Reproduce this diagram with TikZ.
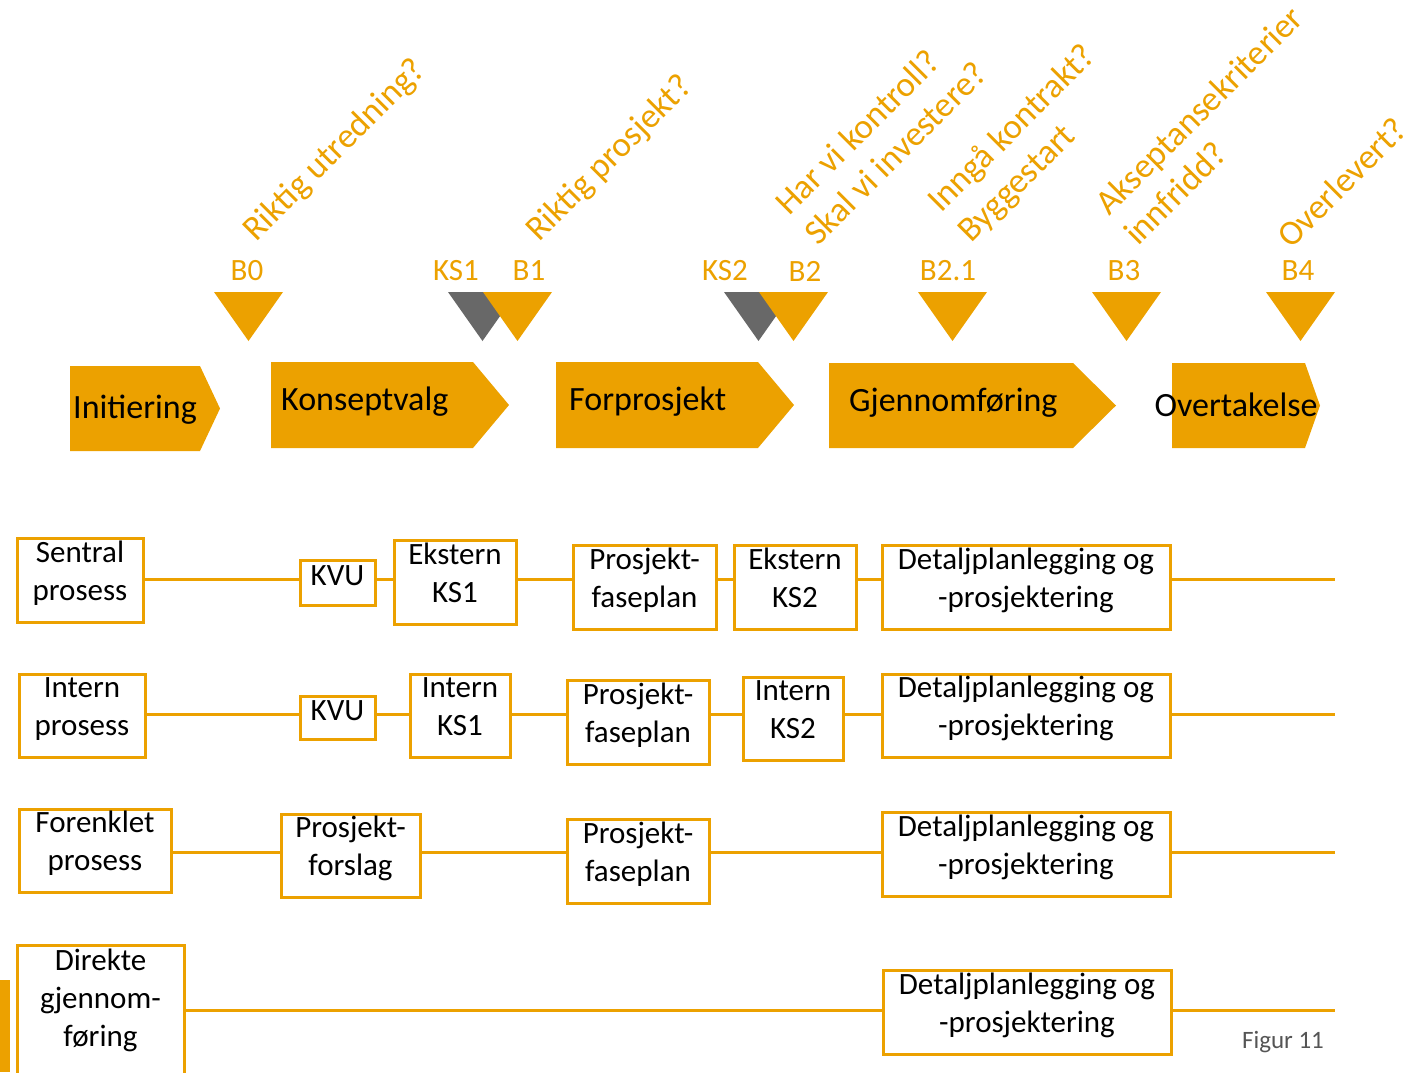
\documentclass[tikz,border=0pt]{standalone}
\usepackage{fontspec}
\setmainfont{Carlito}
\definecolor{org}{RGB}{236,161,0}
\definecolor{ksgray}{RGB}{104,104,104}
\definecolor{figgray}{RGB}{85,85,85}
\tikzset{
 box/.style={draw=org, line width=3pt, fill=white, align=center, inner sep=0pt, font=\fontsize{31}{38}\selectfont, text height=50pt, text depth=10pt},
 boxone/.style={box, text height=20pt, text depth=15pt},
 conn/.style={draw=org, line width=3pt},
 phase/.style={font=\fontsize{34}{40}\selectfont, inner sep=0pt, anchor=west},
 ms/.style={font=\fontsize{31}{36}\selectfont, text=org, inner sep=0pt},
 qtext/.style={font=\fontsize{35}{40}\selectfont, text=org, inner sep=0pt, rotate=45, anchor=base west},
 chev/.style={fill=org},
 ksmark/.style={fill=ksgray},
}
\begin{document}
\begin{tikzpicture}[x=1pt,y=-1pt]
\useasboundingbox (0,0) rectangle (1405,1072);
\clip (0,0) rectangle (1405,1072);

% questions
\node[qtext] (q0) at (256,243) {Riktig utredning?};
\node[qtext] (q1) at (539,243) {Riktig prosjekt?};
\node[qtext] (q2a) at (789,217) {Har vi kontroll?};
\node[qtext] (q2b) at (818,247) {Skal vi investere?};
\node[qtext] (q21a) at (941,214) {Inngå kontrakt?};
\node[qtext] (q21b) at (971,244) {Byggestart};
\node[qtext] (q3a) at (1109,217) {Akseptansekriterier};
\node[qtext] (q3b) at (1138,247) {innfridd?};
\node[qtext] (q4) at (1291,250) {Overlevert?};

% milestone labels
\node[ms] (lb0) at (247,271) {B0};
\node[ms] (lks1) at (456,271) {KS1};
\node[ms] (lb1) at (529,271) {B1};
\node[ms] (lks2) at (725,271) {KS2};
\node[ms] (lb2) at (805,271) {B2};
\node[ms] (lb21) at (948,271) {B2.1};
\node[ms] (lb3) at (1124,271) {B3};
\node[ms] (lb4) at (1298,271) {B4};

% triangles
\fill[chev] (214,292) -- (283,292) -- (248.5,341) -- cycle;
\fill[ksmark] (448,292) -- (517,292) -- (482.5,341) -- cycle;
\fill[chev] (483,292) -- (552,292) -- (517.5,341) -- cycle;
\fill[ksmark] (724,292) -- (793,292) -- (758.5,341) -- cycle;
\fill[chev] (759,292) -- (828,292) -- (793.5,341) -- cycle;
\fill[chev] (918,292) -- (987,292) -- (952.5,341) -- cycle;
\fill[chev] (1092,292) -- (1161,292) -- (1126.5,341) -- cycle;
\fill[chev] (1266,292) -- (1335,292) -- (1300.5,341) -- cycle;

% phases
\fill[chev] (70,366) -- (200,366) -- (220,408.5) -- (200,451) -- (70,451) -- cycle;
\fill[chev] (271,362) -- (473,362) -- (509,405) -- (473,448) -- (271,448) -- cycle;
\fill[chev] (556,362) -- (758,362) -- (794,405) -- (758,448) -- (556,448) -- cycle;
\fill[chev] (829,363) -- (1073,363) -- (1116,405.5) -- (1073,448) -- (829,448) -- cycle;
\fill[chev] (1172,363) -- (1305,363) -- (1320,405.5) -- (1305,448) -- (1172,448) -- cycle;
\node[phase] (pinit) at (73,410) {Initiering};
\node[phase] (pkon) at (281,402) {Konseptvalg};
\node[phase] (pfor) at (569,402) {Forprosjekt};
\node[phase] (pgj) at (849,403) {Gjennomføring};
\node[phase, anchor=center] (pover) at (1236,405) {Overtakelse};

% row coordinates
\coordinate (r1) at (0,579);
\coordinate (r2) at (0,714);
\coordinate (r3) at (0,852);
\coordinate (r4) at (0,1010);
\coordinate (e1) at (1335,579);
\coordinate (e2) at (1335,714);
\coordinate (e3) at (1335,852);
\coordinate (e4) at (1335,1010);

% row 1
\node[box, minimum width=126pt, minimum height=84pt] (sp1) at (80,580) {Sentral\\prosess};
\node[boxone, minimum width=75pt, minimum height=45pt] (kvu1) at (337.5,582.5) {KVU};
\node[box, minimum width=122pt, minimum height=84pt] (eks1) at (455,582) {Ekstern\\KS1};
\node[box, minimum width=143pt, minimum height=84pt] (pf1) at (644.5,587) {Prosjekt-\\faseplan};
\node[box, minimum width=122pt, minimum height=84pt] (eks2) at (795,587) {Ekstern\\KS2};
\node[box, minimum width=288pt, minimum height=84pt] (det1) at (1026,587) {Detaljplanlegging og\\-prosjektering};
\draw[conn] (sp1.east |- r1) -- (kvu1.west |- r1);
\draw[conn] (kvu1.east |- r1) -- (eks1.west |- r1);
\draw[conn] (eks1.east |- r1) -- (pf1.west |- r1);
\draw[conn] (pf1.east |- r1) -- (eks2.west |- r1);
\draw[conn] (eks2.east |- r1) -- (det1.west |- r1);
\draw[conn] (det1.east |- r1) -- (e1);

% row 2
\node[box, minimum width=126pt, minimum height=83pt] (ip) at (82,715.5) {Intern\\prosess};
\node[boxone, minimum width=75pt, minimum height=43pt] (kvu2) at (337.5,717.5) {KVU};
\node[box, minimum width=100pt, minimum height=83pt] (iks1) at (460,715.5) {Intern\\KS1};
\node[box, minimum width=142pt, minimum height=84pt] (pf2) at (638,722) {Prosjekt-\\faseplan};
\node[box, minimum width=100pt, minimum height=83pt] (iks2) at (793,718.5) {Intern\\KS2};
\node[box, minimum width=288pt, minimum height=83pt] (det2) at (1026,715.5) {Detaljplanlegging og\\-prosjektering};
\draw[conn] (ip.east |- r2) -- (kvu2.west |- r2);
\draw[conn] (kvu2.east |- r2) -- (iks1.west |- r2);
\draw[conn] (iks1.east |- r2) -- (pf2.west |- r2);
\draw[conn] (pf2.east |- r2) -- (iks2.west |- r2);
\draw[conn] (iks2.east |- r2) -- (det2.west |- r2);
\draw[conn] (det2.east |- r2) -- (e2);

% row 3
\node[box, minimum width=152pt, minimum height=83pt] (fp) at (95,850.5) {Forenklet\\prosess};
\node[box, minimum width=139pt, minimum height=83pt] (pfo) at (350.5,855.5) {Prosjekt-\\forslag};
\node[box, minimum width=142pt, minimum height=84pt] (pf3) at (638,861) {Prosjekt-\\faseplan};
\node[box, minimum width=288pt, minimum height=84pt] (det3) at (1026,854) {Detaljplanlegging og\\-prosjektering};
\draw[conn] (fp.east |- r3) -- (pfo.west |- r3);
\draw[conn] (pfo.east |- r3) -- (pf3.west |- r3);
\draw[conn] (pf3.east |- r3) -- (det3.west |- r3);
\draw[conn] (det3.east |- r3) -- (e3);

% row 4
\node[draw=org, line width=3pt, fill=white, minimum width=167pt, minimum height=150pt, inner sep=0pt, anchor=north] (dg) at (100.5,944) {};
\node[font=\fontsize{31}{38}\selectfont, align=center, inner sep=0pt] (dgt) at (100.5,1000) {Direkte\\gjennom-\\føring};
\node[box, minimum width=288pt, minimum height=84pt] (det4) at (1027,1012) {Detaljplanlegging og\\-prosjektering};
\draw[conn] (dg.east |- r4) -- (det4.west |- r4);
\draw[conn] (det4.east |- r4) -- (e4);

% left bar
\fill[org] (0,980) rectangle (10,1072);

% caption
\node[font=\fontsize{25}{30}\selectfont, text=figgray, inner sep=0pt] (fig) at (1283,1042) {Figur 11};
\end{tikzpicture}
\end{document}
